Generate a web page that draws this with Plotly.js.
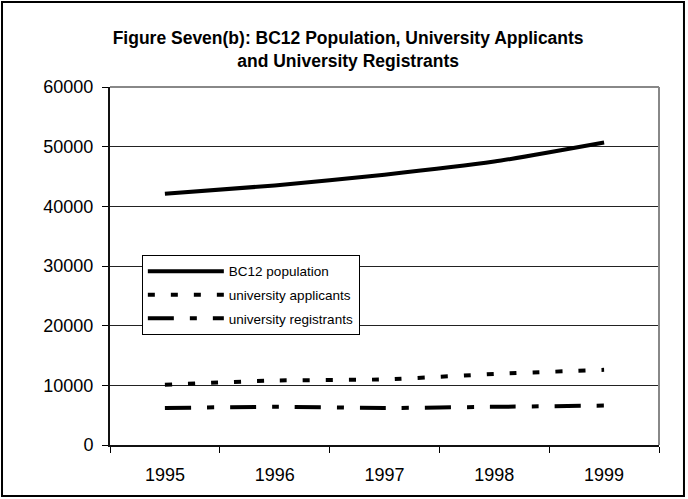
<!DOCTYPE html>
<html>
<head>
<meta charset="utf-8">
<script src="https://cdn.plot.ly/plotly-3.0.1.min.js"></script>
<style>
  html, body { margin: 0; padding: 0; background: #fff; }
  #chart { width: 688px; height: 499px; }
</style>
</head>
<body>
<div id="chart"></div>
<script>
// values
var years = ['1995', '1996', '1997', '1998', '1999'];
var bc12Population = [42100, 43500, 45300, 47500, 50700];
var uniApplicants = [10100, 10800, 11000, 11900, 12600];
var uniRegistrants = [6200, 6400, 6200, 6400, 6600];

var fontFam = '"Liberation Sans", Arial, sans-serif';

var data = [{
    x: years, y: bc12Population,
    type: 'scatter', mode: 'lines',
    name: 'BC12 population',
    legendgroup: 'a',
    line: {color: 'black', width: 4, shape: 'spline', smoothing: 0.6}
}, {
    x: years, y: uniApplicants,
    type: 'scatter', mode: 'lines',
    name: 'university applicants',
    legendgroup: 'b',
    line: {color: 'black', width: 4, dash: '7px,16px', shape: 'spline', smoothing: 0.6}
}, {
    x: years, y: uniRegistrants,
    type: 'scatter', mode: 'lines',
    name: 'university registrants',
    legendgroup: 'c',
    line: {color: 'black', width: 4, dash: '26px,16px,7px,16px', shape: 'spline', smoothing: 0.6}
}];

var layout = {
    width: 688,
    height: 499,
    margin: {l: 110, r: 29, t: 87, b: 54},
    paper_bgcolor: 'white',
    plot_bgcolor: 'white',
    font: {family: fontFam, color: 'black'},
    title: {
        text: '<b>Figure Seven(b): BC12 Population, University Applicants<br>and University Registrants</b>',
        font: {family: fontFam, size: 17.5, color: 'black'},
        xref: 'container', x: 0.506, xanchor: 'center',
        yref: 'container', y: 0.912, yanchor: 'top'
    },
    showlegend: true,
    legend: {
        x: 0.058, y: 0.531, xanchor: 'left', yanchor: 'top',
        bgcolor: 'white', bordercolor: 'black', borderwidth: 1,
        font: {family: fontFam, size: 13.5, color: 'black'},
        traceorder: 'grouped', tracegroupgap: 3,
        itemwidth: 76
    },
    xaxis: {
        type: 'category',
        range: [-0.5, 4.5],
        tickson: 'boundaries',
        ticks: 'outside', ticklen: 6, tickcolor: 'black', tickwidth: 1,
        showline: true, linecolor: '#111', linewidth: 2,
        showgrid: false, zeroline: false,
        tickfont: {family: fontFam, size: 18, color: 'black'},
        ticklabelstandoff: 12,
        fixedrange: true
    },
    yaxis: {
        range: [0, 60000],
        dtick: 10000,
        tickformat: 'd',
        ticks: 'outside', ticklen: 6, tickcolor: 'black', tickwidth: 1,
        showline: true, linecolor: '#111', linewidth: 2,
        showgrid: true, gridcolor: '#222', gridwidth: 1,
        zeroline: false,
        tickfont: {family: fontFam, size: 18, color: 'black'},
        ticklabelstandoff: 5,
        fixedrange: true
    },
    shapes: [{
        // grey plot-area border, top and right
        type: 'line', xref: 'paper', yref: 'paper',
        x0: 0, x1: 1, y0: 1, y1: 1,
        line: {color: '#888', width: 2}
    }, {
        type: 'line', xref: 'paper', yref: 'paper',
        x0: 1, x1: 1, y0: 0, y1: 1,
        line: {color: '#888', width: 2}
    }, {
        // outer frame of the whole chart
        type: 'rect', xref: 'paper', yref: 'paper',
        x0: -0.1967, x1: 1.0455, y0: -0.1425, y1: 1.2375,
        line: {color: 'black', width: 2}
    }]
};

Plotly.newPlot('chart', data, layout, {displayModeBar: false, staticPlot: true});
</script>
</body>
</html>
